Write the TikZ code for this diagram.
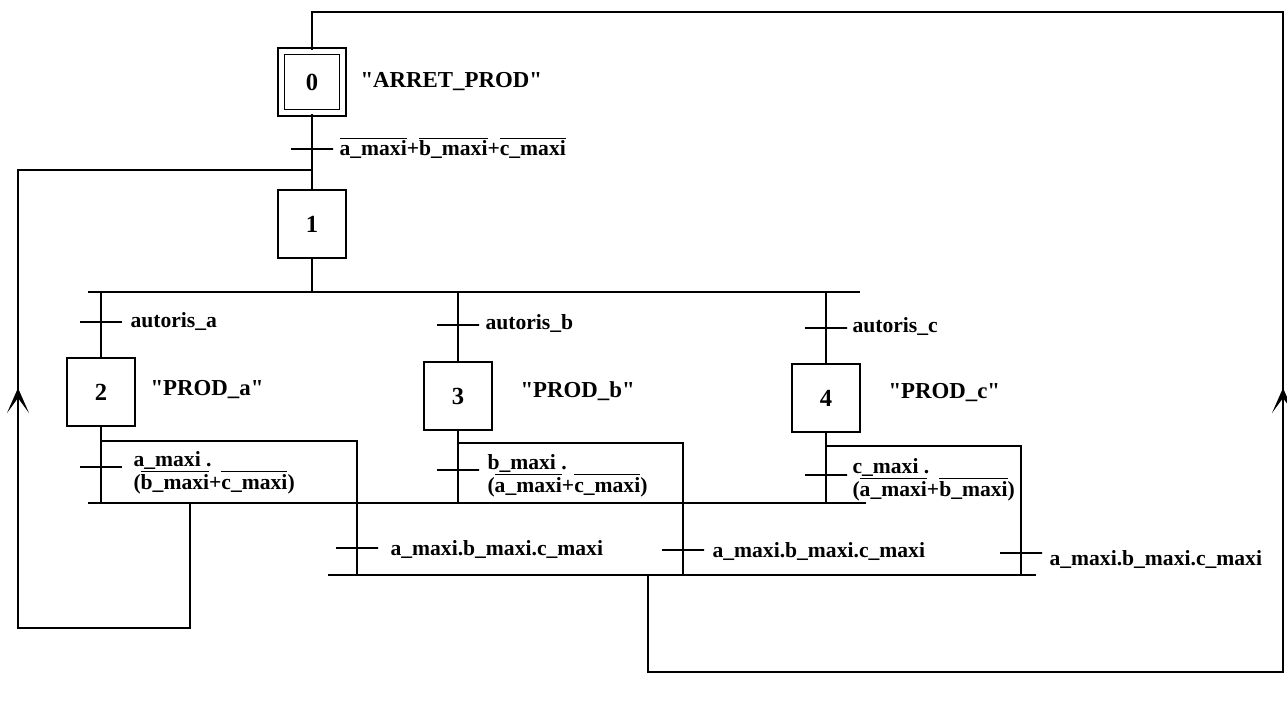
\documentclass[tikz,border=0pt]{standalone}
\usepackage{fontspec}
\setmainfont{Liberation Serif}[Ligatures=TeXOff]
\usetikzlibrary{arrows.meta, positioning}

\newcommand{\nonv}[1]{$\overline{\mbox{#1}}$}

\begin{document}
\begin{tikzpicture}[
    x=0.02cm, y=-0.02cm, line width=0.6pt,
    etape/.style={draw, minimum width=1.36cm, minimum height=1.36cm, inner sep=0pt, font=\fontsize{14}{16}\selectfont\bfseries},
    etapeinit/.style={etape, minimum width=1.24cm, minimum height=1.24cm, double, double distance=0.1cm},
    trans/.style={draw, minimum width=0.84cm, minimum height=0pt, inner sep=0pt},
    action/.style={anchor=west, inner sep=0pt, font=\fontsize{13}{15}\selectfont\bfseries},
    cond/.style={anchor=base west, align=left, inner sep=0pt, font=\fontsize{12.3}{12.6}\selectfont\bfseries,
        execute at begin node={\setlength{\lineskiplimit}{-10pt}}},
    fleche/.style={-{Stealth[length=5mm, width=4.4mm, inset=3mm]}}
]
\useasboundingbox (0,0) rectangle (1287,702);

% etapes
\node[etapeinit] (e0) at (312,82) {0};
\node[etape] (e1) at (312,224) {1};
\node[etape] (e2) at (101,392) {2};
\node[etape] (e3) at (458,396) {3};
\node[etape] (e4) at (826,398) {4};

\node[action] (a0) at (360,82) {"ARRET\_PROD"};
\node[action] (a2) at (150,390) {"PROD\_a"};
\node[action] (a3) at (520,391) {"PROD\_b"};
\node[action] (a4) at (888,393) {"PROD\_c"};

% transitions
\node[trans] (t0) at (312,149) {};
\node[cond] (c0) at (339,156) {\nonv{a\_maxi}+\nonv{b\_maxi}+\nonv{c\_maxi}};

\node[trans] (ta) at (101,322) {};
\node[trans] (tb) at (458,325) {};
\node[trans] (tc) at (826,328) {};
\node[cond] (ca) at (130,327) {autoris\_a};
\node[cond] (cb) at (485,330) {autoris\_b};
\node[cond] (cc) at (852,333) {autoris\_c};

\node[trans] (ta1) at (101,467) {};
\node[trans] (tb1) at (458,470) {};
\node[trans] (tc1) at (826,475) {};
\node[cond] (ca1) at (133,489) {a\_maxi .\\(\nonv{b\_maxi}+\nonv{c\_maxi})};
\node[cond] (cb1) at (487,492) {b\_maxi .\\(\nonv{a\_maxi}+\nonv{c\_maxi})};
\node[cond] (cc1) at (852,496) {c\_maxi .\\(\nonv{a\_maxi}+\nonv{b\_maxi})};

\node[trans] (ta2) at (357,548) {};
\node[trans] (tb2) at (683,550) {};
\node[trans] (tc2) at (1021,553) {};
\node[cond] (ca2) at (390,555) {a\_maxi.b\_maxi.c\_maxi};
\node[cond] (cb2) at (712,557) {a\_maxi.b\_maxi.c\_maxi};
\node[cond] (cc2) at (1049,565) {a\_maxi.b\_maxi.c\_maxi};

% divergences / convergences
\coordinate (dv1g) at (88,292);
\coordinate (dv1d) at (860,292);
\coordinate (da) at (357,441);
\coordinate (db) at (683,443);
\coordinate (dc) at (1021,446);
\coordinate (cv1g) at (88,503);
\coordinate (cv1d) at (866,503);
\coordinate (cv2g) at (328,575);
\coordinate (cv2d) at (1036,575);

% retours
\coordinate (rh) at (1283,12);
\coordinate (rb) at (1283,672);
\coordinate (rc) at (648,672);
\coordinate (flD) at (1283,388);
\coordinate (lh) at (18,170);
\coordinate (lb) at (18,628);
\coordinate (lc) at (190,628);
\coordinate (flG) at (18,388);

% liaisons
\draw (e0.south) -- (e1.north);
\draw (e1.south) -- (e1 |- dv1g);
\draw (dv1g) -- (dv1d);
\draw (e2 |- dv1g) -- (e2.north);
\draw (e3 |- dv1g) -- (e3.north);
\draw (e4 |- dv1g) -- (e4.north);

\draw (e2.south) -- (e2 |- cv1g);
\draw (e3.south) -- (e3 |- cv1g);
\draw (e4.south) -- (e4 |- cv1g);
\draw (cv1g) -- (cv1d);

\draw (e2 |- da) -- (da) -- (da |- cv2g);
\draw (e3 |- db) -- (db) -- (db |- cv2g);
\draw (e4 |- dc) -- (dc) -- (dc |- cv2g);
\draw (cv2g) -- (cv2d);

\draw (lc |- cv1g) -- (lc) -- (lb) -- (lh) -- (lh -| e1);
\draw[fleche] (lb) -- (flG);

\draw (rc |- cv2g) -- (rc) -- (rb) -- (rh) -- (rh -| e0) -- (e0.north);
\draw[fleche] (rb) -- (flD);
\end{tikzpicture}
\end{document}
